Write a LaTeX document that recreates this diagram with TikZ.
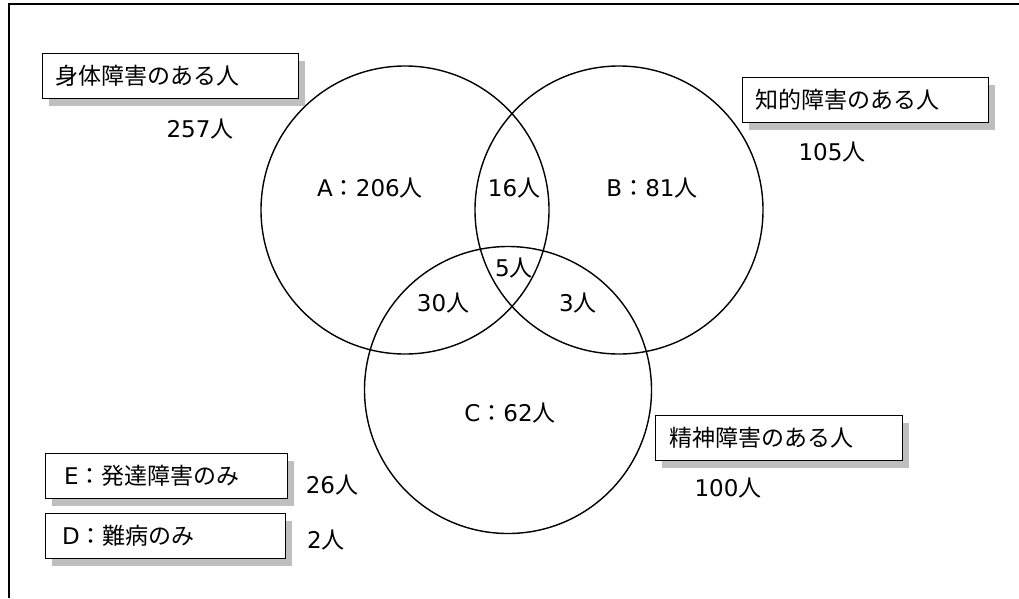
\documentclass[tikz,border=0pt]{standalone}
\usepackage{fontspec}
\setmainfont{DejaVu Sans}
\newfontfamily\jp{Noto Sans CJK JP}
\usetikzlibrary{shadows,calc}
\newcommand{\J}[1]{{\jp #1}}
\tikzset{
  lbl/.style={font=\fontsize{23}{27}\selectfont, inner sep=0pt},
  boxed/.style={draw=black, line width=1.4pt, fill=white, anchor=north west,
    drop shadow={shadow xshift=6pt, shadow yshift=-7pt, fill=black!25, opacity=1}},
  ring/.style={draw=black, line width=1.4pt},
  frame/.style={draw=black, line width=1.8pt}
}
\begin{document}
\begin{tikzpicture}[x=1pt,y=-1pt]
\useasboundingbox (0,0) rectangle (1019,598);
% outer frame (top and left)
\coordinate (f1) at (9,598);
\coordinate (f2) at (9,4);
\coordinate (f3) at (1019,4);
\draw[frame] (f1) -- (f2) -- (f3);
% circles
\node[ring, circle, minimum size=288pt] (cA) at (405,210) {};
\node[ring, circle, minimum size=288pt] (cB) at (619,210) {};
\node[ring, circle, minimum size=287pt] (cC) at (508,390) {};
% labelled boxes
\node[boxed, minimum width=256pt, minimum height=45pt] (b1) at (42,53) {};
\node[lbl, anchor=west] (t1) at ($(b1.west)+(13,0)$) {\J{身体障害のある人}};
\node[lbl] (n1) at (200,129) {257\J{人}};
\node[boxed, minimum width=246pt, minimum height=45pt] (b2) at (742,77) {};
\node[lbl, anchor=west] (t2) at ($(b2.west)+(13,0)$) {\J{知的障害のある人}};
\node[lbl] (n2) at (832,152) {105\J{人}};
\node[boxed, minimum width=247pt, minimum height=45pt] (b3) at (655,415) {};
\node[lbl, anchor=west] (t3) at ($(b3.west)+(14,0)$) {\J{精神障害のある人}};
\node[lbl] (n3) at (728,488) {100\J{人}};
\node[boxed, minimum width=242pt, minimum height=45pt] (b4) at (45,453) {};
\node[lbl, anchor=west] (t4) at ($(b4.west)+(19,0)$) {E\J{：発達障害のみ}};
\node[lbl] (n4) at (332,485) {26\J{人}};
\node[boxed, minimum width=240pt, minimum height=45pt] (b5) at (45,513) {};
\node[lbl, anchor=west] (t5) at ($(b5.west)+(17,0)$) {D\J{：難病のみ}};
\node[lbl] (n5) at (326,540) {2\J{人}};
% region counts
\node[lbl] (rA) at (370,188) {A\J{：}206\J{人}};
\node[lbl] (rAB) at (514,188) {16\J{人}};
\node[lbl] (rB) at (652,188) {B\J{：}81\J{人}};
\node[lbl] (rABC) at (514,268) {5\J{人}};
\node[lbl] (rAC) at (443,303) {30\J{人}};
\node[lbl] (rBC) at (578,303) {3\J{人}};
\node[lbl] (rC) at (510,413) {C\J{：}62\J{人}};
\end{tikzpicture}
\end{document}
